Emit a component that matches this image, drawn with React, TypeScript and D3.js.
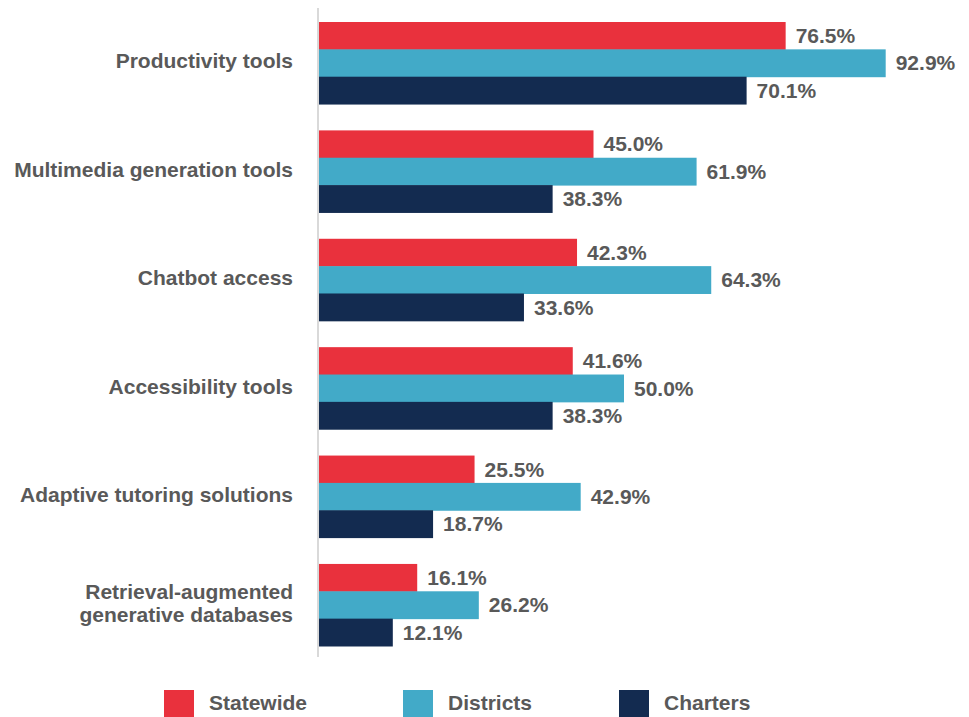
import { useEffect, useRef } from 'react'
import * as d3 from 'd3'

const categories = [
  ['Productivity tools'],
  ['Multimedia generation tools'],
  ['Chatbot access'],
  ['Accessibility tools'],
  ['Adaptive tutoring solutions'],
  ['Retrieval-augmented', 'generative databases'],
]
const seriesNames = ['Statewide', 'Districts', 'Charters']
const statewide = [76.5, 45.0, 42.3, 41.6, 25.5, 16.1]
const districts = [92.9, 61.9, 64.3, 50.0, 42.9, 26.2]
const charters = [70.1, 38.3, 33.6, 38.3, 18.7, 12.1]
const colors = ['#E9313D', '#42AAC8', '#132B50']
const legendX = [164, 403, 619]

export default function App() {
  const svgRef = useRef<SVGSVGElement | null>(null)

  useEffect(() => {
    if (!svgRef.current) return
    const svg = d3.select(svgRef.current)
    svg.selectAll('*').remove()

    const width = 969
    const height = 717
    const font = '"Liberation Sans", Arial, sans-serif'
    const textColor = '#595959'

    const keys = categories.map((c) => c.join(' '))
    const rows = keys.map((k, i) => ({
      key: k,
      lines: categories[i],
      values: [statewide[i], districts[i], charters[i]],
    }))

    const y0 = d3.scaleBand().domain(keys).range([9, 659]).paddingInner(0.243).paddingOuter(0.12)
    const y1 = d3.scaleBand().domain(seriesNames).range([0, y0.bandwidth()])
    const x = d3.scaleLinear().domain([0, 100]).range([319, 929])

    svg.attr('width', width).attr('height', height)

    const groups = svg
      .selectAll('g.cat')
      .data(rows)
      .enter()
      .append('g')
      .attr('class', 'cat')
      .attr('transform', (d) => `translate(0,${y0(d.key)})`)

    seriesNames.forEach((s, si) => {
      groups
        .append('rect')
        .attr('x', x(0))
        .attr('y', y1(s)!)
        .attr('width', (d) => x(d.values[si]) - x(0))
        .attr('height', y1.bandwidth() + 0.5)
        .attr('fill', colors[si])

      groups
        .append('text')
        .attr('x', (d) => x(d.values[si]) + 10)
        .attr('y', y1(s)! + y1.bandwidth() / 2)
        .attr('dy', '0.35em')
        .style('font-family', font)
        .style('font-weight', 'bold')
        .style('font-size', '21px')
        .attr('fill', textColor)
        .text((d) => d.values[si].toFixed(1) + '%')
    })

    // category labels
    groups.each(function (d) {
      const g = d3.select(this)
      const n = d.lines.length
      const lh = 23
      d.lines.forEach((line, li) => {
        g.append('text')
          .attr('x', 293)
          .attr('y', y0.bandwidth() / 2 - 2 + (li - (n - 1) / 2) * lh)
          .attr('dy', '0.35em')
          .attr('text-anchor', 'end')
          .style('font-family', font)
          .style('font-weight', 'bold')
          .style('font-size', '21px')
          .attr('fill', textColor)
          .text(line)
      })
    })

    // axis line
    svg
      .append('line')
      .attr('x1', x(0) - 1)
      .attr('x2', x(0) - 1)
      .attr('y1', 8)
      .attr('y2', 657)
      .attr('stroke', '#D9D9D9')
      .attr('stroke-width', 2)

    // legend
    seriesNames.forEach((s, i) => {
      const lg = svg.append('g').attr('transform', `translate(${legendX[i]},690)`)
      lg.append('rect').attr('width', 30).attr('height', 30).attr('fill', colors[i])
      lg.append('text')
        .attr('x', 45)
        .attr('y', 20)
        .style('font-family', font)
        .style('font-weight', 'bold')
        .style('font-size', '21px')
        .attr('fill', textColor)
        .text(s)
    })
  }, [])

  return (
    <div style={{ position: 'absolute', left: 0, top: 0 }}>
      <svg ref={svgRef} style={{ display: 'block' }}></svg>
    </div>
  )
}
